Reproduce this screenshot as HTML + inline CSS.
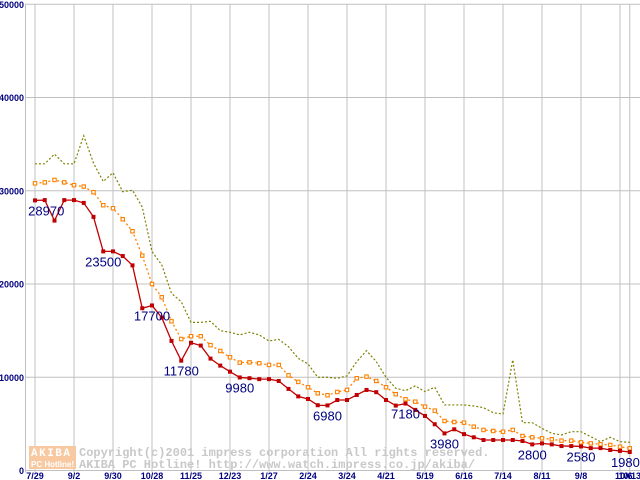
<!DOCTYPE html>
<html><head><meta charset="utf-8"><style>
html,body{margin:0;padding:0;background:#fff;}
svg{display:block;}
</style></head><body>
<svg id="chart" width="640" height="480" viewBox="0 0 640 480" xmlns="http://www.w3.org/2000/svg">
<g id="grid"></g>
<g id="watermark">
  <rect x="29" y="446" width="47" height="12" fill="#f8c8a0"/>
  <rect x="29" y="458" width="47" height="11" fill="#f8c8a0"/>
  <text x="31" y="456" font-family="Liberation Mono, monospace" font-weight="bold" font-size="11" fill="#fff" letter-spacing="1.5">AKIBA</text>
  <text x="31" y="467" font-family="Liberation Sans, sans-serif" font-weight="bold" font-size="8" fill="#fff">PC Hotline!</text>
  <text x="79" y="456" font-family="Liberation Mono, monospace" font-weight="bold" font-size="12" fill="#c8c8c8">Copyright(c)2001 impress corporation All rights reserved.</text>
  <text x="79" y="468" font-family="Liberation Mono, monospace" font-weight="bold" font-size="12" fill="#c8c8c8">AKIBA PC Hotline!  http://www.watch.impress.co.jp/akiba/</text>
</g>
<g id="series"></g>
<g id="labels"></g>
</svg>
<script>
const yTicks = [0, 10000, 20000, 30000, 40000, 50000];
const xTickLabels = ["7/29","9/2","9/30","10/28","11/25","12/23","1/27","2/24","3/24","4/21","5/19","6/16","7/14","8/11","9/8","10/6"];
const lastTickLabel = "10/13";
const lowSeries = [28970,29000,26800,29000,29000,28700,27200,23500,23500,23000,22000,17400,17700,16400,13900,11780,13700,13400,12000,11250,10600,9980,9900,9800,9800,9600,8750,7950,7670,7000,6980,7560,7560,8100,8640,8400,7560,6960,7180,6500,5850,4960,3980,4420,3900,3560,3270,3270,3270,3270,3160,2800,2910,2800,2620,2620,2580,2400,2400,2200,2100,1980];
const avgSeries = [30800,30900,31160,30900,30600,30450,29850,28450,28130,26950,25660,23050,20000,18580,16000,14100,14400,14400,13440,12820,12140,11570,11600,11500,11320,11320,10210,9500,8930,8280,8070,8420,8640,9890,10070,9600,8930,8180,7640,7380,6850,6420,5310,5200,5130,4700,4350,4240,4160,4350,3700,3560,3450,3350,3200,3200,3020,2910,2810,2740,2550,2380];
const highSeries = [32890,32890,33930,32890,32890,35900,32970,31000,31930,29900,30060,28250,23480,22050,19000,18100,15890,15890,16000,15000,14830,14540,14830,14540,13890,14060,13280,12030,11430,10000,10000,9890,10140,11680,12850,11680,10000,8820,8560,9070,8460,8930,7030,7030,7030,6920,6740,6200,6060,11860,5130,5130,4520,3990,3810,4160,4160,3630,3090,3560,3090,3020];
const labelIdx = [0,7,12,15,21,30,38,42,51,56,61];
const labelText = ["28970","23500","17700","11780","9980","6980","7180","3980","2800","2580","1980"];

const NS = "http://www.w3.org/2000/svg";
const X0 = 35, DX = 9.75, Y0 = 470.5, YTOP = 4.3, YMAX = 50000;
function xs(i){ return X0 + i*DX; }
function ys(v){ return Y0 - (v/YMAX)*(Y0-YTOP); }
function mk(tag, attrs, parent){ const e=document.createElementNS(NS,tag); for(const k in attrs) e.setAttribute(k, attrs[k]); parent.appendChild(e); return e; }

const grid = document.getElementById('grid');
yTicks.forEach(v=>{
  const l = mk('line',{x1:25,x2:640,y1:ys(v),y2:ys(v),stroke:'#c0c0c0','stroke-width':1},grid);
  
  
  const t = mk('text',{x:24,y:ys(v)+3.5,'text-anchor':'end','font-family':'Liberation Sans, sans-serif','font-weight':'bold','font-size':'9',fill:'#000080'},grid);
  t.textContent = String(v);
  
  
});
mk('line',{x1:25.5,x2:25.5,y1:YTOP,y2:Y0+2,stroke:'#c0c0c0'},grid);
xTickLabels.forEach((s,k)=>{
  const x = xs(k*4);
  const l = mk('line',{x1:x,x2:x,y1:YTOP,y2:Y0+2,stroke:'#c0c0c0','stroke-width':1},grid);
  
  
  if(k===15) return;
  const t = mk('text',{x:x,y:479,'text-anchor':'middle','font-family':'Liberation Sans, sans-serif','font-weight':'bold','font-size':'9',fill:'#000080'},grid);
  t.textContent = s;
  
  
});
{
  const x = xs(lowSeries.length-1);
  mk('line',{x1:x,x2:x,y1:YTOP,y2:Y0+2,stroke:'#c0c0c0'},grid);
  const t = mk('text',{x:x-6,y:479,'text-anchor':'middle','font-family':'Liberation Sans, sans-serif','font-weight':'bold','font-size':'9',fill:'#000080'},grid);
  t.textContent = "10/6";
  
  
  const t2 = mk('text',{x:x,y:479,'text-anchor':'middle','font-family':'Liberation Sans, sans-serif','font-weight':'bold','font-size':'9',fill:'#000080'},grid);
  t2.textContent = lastTickLabel;
  
  
}

const series = document.getElementById('series');
function pts(arr){ return arr.map((v,i)=>xs(i)+','+ys(v)).join(' '); }
const hl = mk('polyline',{points:pts(highSeries),fill:'none',stroke:'#808000','stroke-width':1.2,'stroke-dasharray':'2,2'},series);


const al = mk('polyline',{points:pts(avgSeries),fill:'none',stroke:'#ff8000','stroke-width':1.3,'stroke-dasharray':'2,2.5'},series);


avgSeries.forEach((v,i)=>{
  const r = mk('rect',{x:xs(i)-1.7,y:ys(v)-1.7,width:3.4,height:3.4,fill:'#fff',stroke:'#ff8000','stroke-width':1.1},series);
  
  
});
const ll = mk('polyline',{points:pts(lowSeries),fill:'none',stroke:'#c00000','stroke-width':1.3},series);


lowSeries.forEach((v,i)=>{
  const r = mk('rect',{x:xs(i)-2,y:ys(v)-2,width:4,height:4,fill:'#c00000'},series);
  
  
});

const labels = document.getElementById('labels');
labelIdx.forEach((idx,k)=>{
  let x = xs(idx);
  const w = labelText[k].length*7.3;
  x = Math.max(x, 28+w/2);
  x = Math.min(x, 640-w/2);
  const t = mk('text',{x:x,y:ys(lowSeries[idx])+15,'text-anchor':'middle','font-family':'Liberation Sans, sans-serif','font-size':'13',fill:'#000080'},labels);
  t.textContent = labelText[k];
  
  
});
</script>
</body></html>
